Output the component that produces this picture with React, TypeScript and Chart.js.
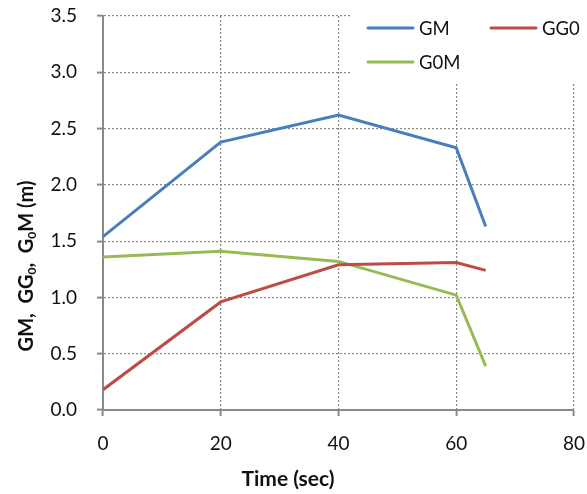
import React, { useEffect, useRef } from "react";
import { Chart, registerables } from "chart.js";

Chart.register(...registerables);

const times = [0, 20, 40, 60, 65];
const gmValues = [1.54, 2.38, 2.62, 2.33, 1.63];
const gg0Values = [0.18, 0.96, 1.29, 1.31, 1.24];
const g0mValues = [1.36, 1.41, 1.32, 1.02, 0.39];
const seriesLabels = ["GM", "GG0", "G0M"];
const seriesColors = ["#4A7EBB", "#BE4B48", "#98B954"];
const xTitle = "Time (sec)";
const yTitleParts: [string, boolean][] = [
  ["GM,  GG", false],
  ["0", true],
  [",  G", false],
  ["0", true],
  ["M (m)", false],
];

const FONT = "Lato, 'Open Sans', sans-serif";

const overlayPlugin = {
  id: "overlay",
  beforeDatasetsDraw(chart: any) {
    const ctx = chart.ctx as CanvasRenderingContext2D;
    ctx.save();
    ctx.fillStyle = "#ffffff";
    ctx.fillRect(352, 0, 235, 82);
    const spots = [
      { x: 368, y: 28 },
      { x: 491, y: 28 },
      { x: 368, y: 62 },
    ];
    chart.data.datasets.forEach((ds: any, i: number) => {
      const s = spots[i];
      ctx.strokeStyle = ds.borderColor;
      ctx.lineWidth = 3;
      ctx.lineCap = "round";
      ctx.beginPath();
      ctx.moveTo(s.x, s.y);
      ctx.lineTo(s.x + 45, s.y);
      ctx.stroke();
      ctx.fillStyle = "#111";
      ctx.font = `18.5px ${FONT}`;
      ctx.textBaseline = "middle";
      ctx.textAlign = "left";
      ctx.fillText(ds.label, s.x + 51, s.y + 1);
    });
    ctx.restore();
  },
  afterDraw(chart: any) {
    const ctx = chart.ctx as CanvasRenderingContext2D;
    ctx.save();
    ctx.fillStyle = "#111";
    // x title
    ctx.font = `bold 21px ${FONT}`;
    ctx.textAlign = "center";
    ctx.textBaseline = "alphabetic";
    ctx.fillText(xTitle, 288, 486);
    // y title with subscripts
    ctx.translate(33, 266);
    ctx.rotate(-Math.PI / 2);
    const big = `bold 20px ${FONT}`;
    const small = `bold 12px ${FONT}`;
    let total = 0;
    yTitleParts.forEach(([t, sub]) => {
      ctx.font = sub ? small : big;
      total += ctx.measureText(t).width;
    });
    let x = -total / 2;
    ctx.textAlign = "left";
    yTitleParts.forEach(([t, sub]) => {
      ctx.font = sub ? small : big;
      ctx.fillText(t, x, sub ? 3 : 0);
      x += ctx.measureText(t).width;
    });
    ctx.restore();
  },
};

export default function App() {
  const ref = useRef<HTMLCanvasElement | null>(null);
  useEffect(() => {
    if (!ref.current) return;
    const all = [gmValues, gg0Values, g0mValues];
    const gridOpts = {
      color: "#888888",
      lineWidth: 1.2,
      tickLength: 6,
      tickColor: "#8a8a8a",
      tickBorderDash: [],
      tickWidth: 2,
    };
    const borderOpts = { display: true, color: "#8a8a8a", width: 2, dash: [2, 2] };
    const chart = new Chart(ref.current, {
      type: "line",
      data: {
        datasets: all.map((vals, i) => ({
          label: seriesLabels[i],
          data: times.map((t, j) => ({ x: t, y: vals[j] })),
          borderColor: seriesColors[i],
          backgroundColor: seriesColors[i],
          borderWidth: 3,
          pointRadius: 0,
          tension: 0,
          fill: false,
        })),
      },
      options: {
        responsive: false,
        animation: false,
        layout: { padding: { top: 16, right: 13, left: 0, bottom: 0 } },
        plugins: { legend: { display: false }, tooltip: { enabled: false } },
        scales: {
          x: {
            type: "linear",
            min: 0,
            max: 80,
            ticks: { stepSize: 20, padding: 16, color: "#111", font: { family: FONT, size: 19 } },
            grid: gridOpts,
            border: borderOpts,
            afterFit: (s: any) => {
              s.height = 84;
              s.paddingRight = 5;
              s.paddingLeft = 0;
            },
          },
          y: {
            type: "linear",
            min: 0,
            max: 3.5,
            ticks: {
              stepSize: 0.5,
              padding: 20,
              color: "#111",
              font: { family: FONT, size: 19 },
              callback: (v: any) => Number(v).toFixed(1),
            },
            grid: gridOpts,
            border: borderOpts,
            afterFit: (s: any) => {
              s.width = 103;
              s.paddingTop = 5;
              s.paddingBottom = 0;
            },
          },
        },
      },
      plugins: [overlayPlugin],
    } as any);
    return () => chart.destroy();
  }, []);
  return (
    <div style={{ position: "fixed", left: 0, top: 0, width: 587, height: 494, background: "#fff" }}>
      <canvas ref={ref} width={587} height={494} />
    </div>
  );
}
